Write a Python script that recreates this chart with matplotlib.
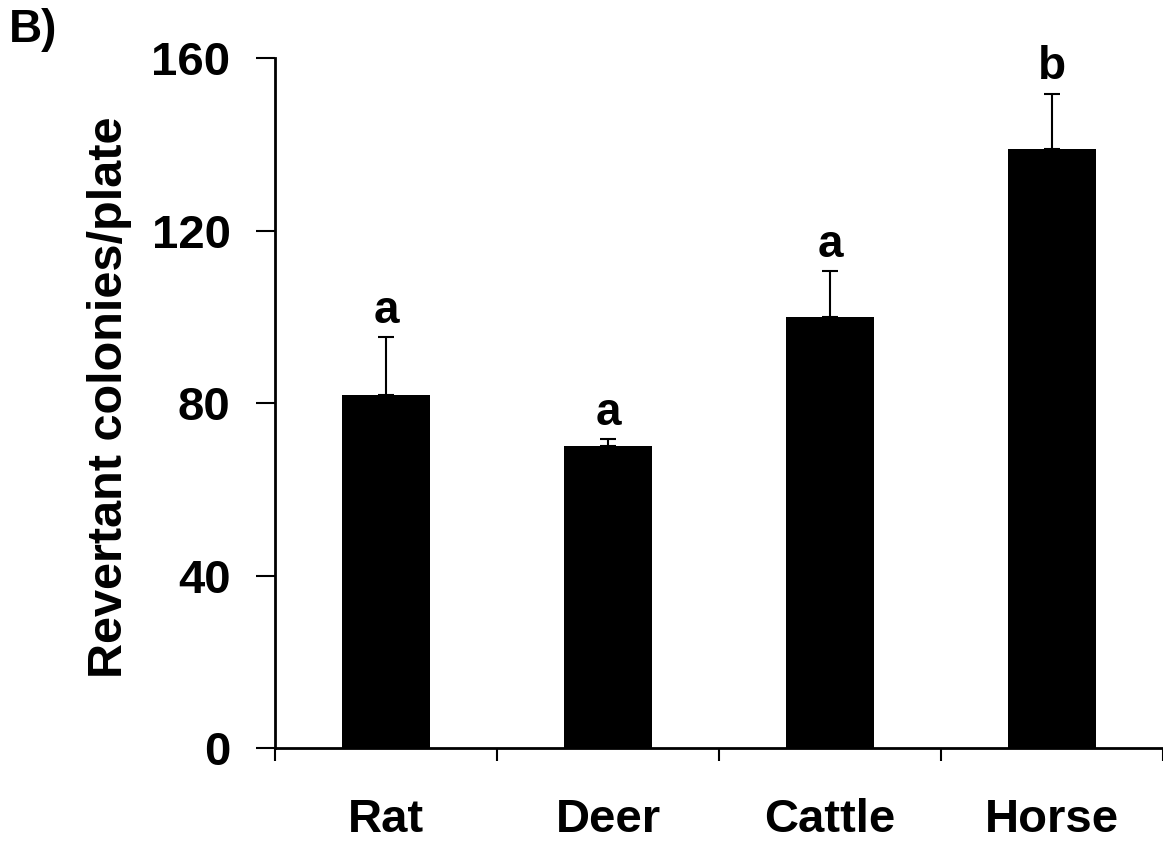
import numpy as np
import matplotlib
matplotlib.use('Agg')
import matplotlib.pyplot as plt

## data
animals = ['Rat', 'Deer', 'Cattle', 'Horse']
colonies = [82, 70, 100, 139]
sem = [13.4, 1.7, 10.7, 12.8]
letters = ['a', 'a', 'a', 'b']
yticks = [0, 40, 80, 120, 160]

plt.rcParams['font.family'] = ['Liberation Sans', 'DejaVu Sans']
plt.rcParams['font.weight'] = 'bold'

fig = plt.figure(figsize=(11.63, 8.46), dpi=100)
ax = fig.add_axes([0.2365, 0.1155, 0.7635, 0.8155])

x = np.arange(len(animals))
ax.bar(x, colonies, width=0.4, color='black', zorder=2)
ax.errorbar(x, colonies, yerr=[np.zeros(len(sem)), sem], fmt='none',
            ecolor='black', elinewidth=1.5, capsize=6, capthick=1.5, zorder=1)

for xi, v, e, t in zip(x, colonies, sem, letters):
    ax.text(xi, v + e + 1.0, t, ha='center', va='bottom',
            fontsize=33, fontweight='bold')

ax.set_xlim(-0.5, 3.5)
ax.set_ylim(0, 160)
ax.set_yticks(yticks)
ax.set_yticklabels([str(t) for t in yticks])
# category ticks sit between the bars, labels under the bars
ax.set_xticks(np.arange(-0.5, 4.0, 1.0))
ax.set_xticklabels([])
ax.set_xticks(x, minor=True)
ax.set_xticklabels(animals, minor=True)
ax.tick_params(axis='x', which='minor', length=0, pad=36, labelsize=34)
ax.tick_params(axis='x', which='major', direction='out', length=9, width=1.5)
ax.tick_params(axis='y', direction='out', length=14, width=1.5, labelsize=34, pad=18)

for side in ['top', 'right']:
    ax.spines[side].set_visible(False)
for side in ['left', 'bottom']:
    ax.spines[side].set_linewidth(2)
ax.spines['bottom'].set_clip_on(False)

ax.set_ylabel('Revertant colonies/plate', fontsize=35, fontweight='bold', va='center')
ax.yaxis.set_label_coords(-0.186, 0.509)
fig.text(0.008, 0.99, 'B)', fontsize=33, fontweight='bold', va='top', ha='left')

fig.savefig('out.png', dpi=100)
